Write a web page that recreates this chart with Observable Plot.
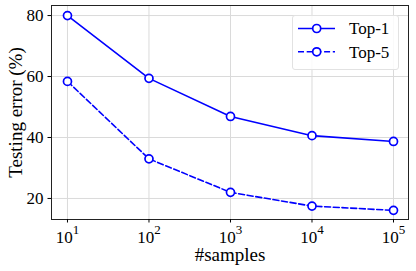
<!DOCTYPE html>
<html>
<head>
<meta charset="utf-8">
<script src="https://cdn.jsdelivr.net/npm/d3@7"></script>
<script src="https://cdn.jsdelivr.net/npm/@observablehq/plot@0.6"></script>
<style>
  html, body { margin: 0; padding: 0; background: white; }
  #wrap { position: relative; width: 416px; height: 271px; font-family: "Liberation Serif", "Times New Roman", serif; }
  #legend { position: absolute; left: 292px; top: 15px; width: 107px; height: 55px; box-sizing: border-box;
            border: 1px solid #e2e2e2; border-radius: 3px; background: rgba(255,255,255,0.85); }
</style>
</head>
<body>
<div id="wrap"></div>
<script>
const samples = [10, 100, 1000, 10000, 100000];
const top1 = [80.0, 59.4, 46.9, 40.6, 38.7];
const top5 = [58.4, 33.0, 22.0, 17.5, 16.1];
const seriesNames = ["Top-1", "Top-5"];
const xTicks = [10, 100, 1000, 10000, 100000];
const yTicks = [20, 40, 60, 80];
const xLabel = "#samples";
const yLabel = "Testing error (%)";

const blue = "#0000ff";
const dash = "6,2.7";
const rows1 = samples.map((s, i) => ({x: s, y: top1[i]}));
const rows5 = samples.map((s, i) => ({x: s, y: top5[i]}));

const chart = Plot.plot({
  width: 416,
  height: 271,
  marginLeft: 51,
  marginRight: 8,
  marginTop: 5,
  marginBottom: 52,
  style: {fontFamily: "Liberation Serif", fontSize: "17px", background: "white", color: "black", overflow: "visible"},
  x: {type: "log", domain: [Math.pow(10, 0.804), Math.pow(10, 5.184)]},
  y: {domain: [13.1, 83.3]},
  marks: [
    Plot.gridX(xTicks, {stroke: "#dadada", strokeOpacity: 1, strokeWidth: 1}),
    Plot.gridY(yTicks, {stroke: "#dadada", strokeOpacity: 1, strokeWidth: 1}),
    Plot.line(rows1, {x: "x", y: "y", stroke: blue, strokeWidth: 1.6}),
    Plot.line(rows5, {x: "x", y: "y", stroke: blue, strokeWidth: 1.6, strokeDasharray: dash}),
    Plot.dot(rows1, {x: "x", y: "y", r: 4, stroke: blue, strokeWidth: 1.7, fill: "white"}),
    Plot.dot(rows5, {x: "x", y: "y", r: 4, stroke: blue, strokeWidth: 1.7, fill: "white"}),
    Plot.frame({stroke: "#222", strokeWidth: 1}),
    Plot.axisX({ticks: xTicks, tickFormat: () => "10", tickSize: 3.5, tickPadding: 8, fontSize: 17, label: null}),
    Plot.axisY({ticks: yTicks, tickFormat: d => String(d), tickSize: 3.5, tickPadding: 4.5, fontSize: 17, label: null}),
    Plot.text([xLabel], {frameAnchor: "bottom", lineAnchor: "middle", textAnchor: "middle", dy: 35, fontSize: 19, fill: "black"}),
    Plot.text([yLabel], {frameAnchor: "left", lineAnchor: "middle", textAnchor: "middle", dx: -36, rotate: -90, fontSize: 19, fill: "black"})
  ]
});

// superscript exponents on x tick labels
chart.querySelectorAll('g[aria-label="x-axis tick label"] text').forEach((t, i) => {
  const k = Math.round(Math.log10(xTicks[i]));
  t.textContent = "10";
  const ts = document.createElementNS("http://www.w3.org/2000/svg", "tspan");
  ts.setAttribute("dy", "-9");
  ts.setAttribute("font-size", "13");
  ts.textContent = String(k);
  t.appendChild(ts);
});

const wrap = document.getElementById("wrap");
wrap.appendChild(chart);

// legend
const legend = document.createElement("div");
legend.id = "legend";
const ns = "http://www.w3.org/2000/svg";
const lsvg = document.createElementNS(ns, "svg");
lsvg.setAttribute("width", "107");
lsvg.setAttribute("height", "55");
lsvg.style.position = "absolute";
lsvg.style.left = "-1px";
lsvg.style.top = "-1px";
seriesNames.forEach((name, i) => {
  const cy = 13.5 + i * 23.3;
  const line = document.createElementNS(ns, "line");
  line.setAttribute("x1", 6); line.setAttribute("x2", 43);
  line.setAttribute("y1", cy); line.setAttribute("y2", cy);
  line.setAttribute("stroke", blue); line.setAttribute("stroke-width", 1.6);
  if (i === 1) line.setAttribute("stroke-dasharray", dash);
  lsvg.appendChild(line);
  const c = document.createElementNS(ns, "circle");
  c.setAttribute("cx", 24.7); c.setAttribute("cy", cy); c.setAttribute("r", 4);
  c.setAttribute("fill", "white"); c.setAttribute("stroke", blue); c.setAttribute("stroke-width", 1.7);
  lsvg.appendChild(c);
  const tx = document.createElementNS(ns, "text");
  tx.setAttribute("x", 57); tx.setAttribute("y", cy);
  tx.setAttribute("dy", "0.34em");
  tx.setAttribute("font-size", "17");
  tx.setAttribute("font-family", "Liberation Serif");
  tx.textContent = name;
  lsvg.appendChild(tx);
});
legend.appendChild(lsvg);
wrap.appendChild(legend);
</script>
</body>
</html>
